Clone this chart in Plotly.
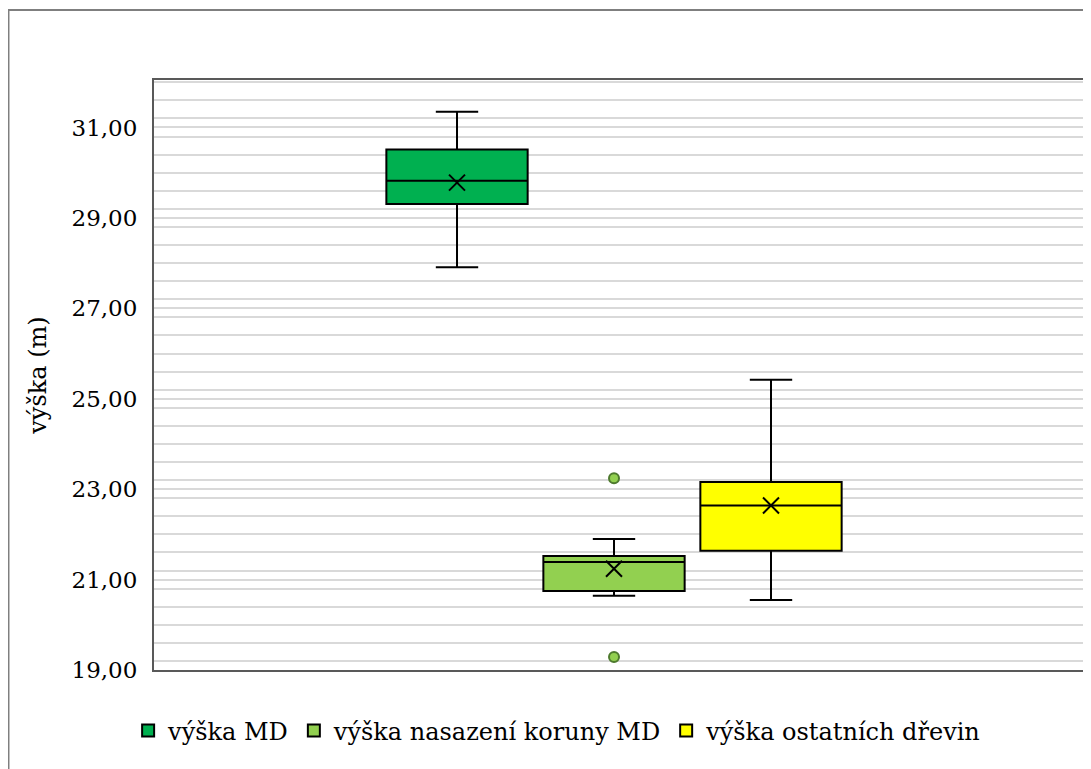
import plotly.graph_objects as go

# box statistics (metres)
series = ["výška MD", "výška nasazení koruny MD", "výška ostatních dřevin"]
colors = ["#00B050", "#92D050", "#FFFF00"]
positions = [2, 3, 4]
q1 = [29.31, 20.75, 21.64]
median = [29.82, 21.39, 22.64]
q3 = [30.51, 21.52, 23.16]
lower = [27.91, 20.64, 20.55]
upper = [31.35, 21.90, 25.42]
means = [29.78, 21.24, 22.64]
outlier_x = [3, 3]
outlier_y = [23.24, 19.29]

FONT = "DejaVu Serif"

fig = go.Figure()
for i, name in enumerate(series):
    fig.add_trace(go.Box(
        x=[positions[i]], q1=[q1[i]], median=[median[i]], q3=[q3[i]],
        lowerfence=[lower[i]], upperfence=[upper[i]],
        name=name, width=0.9, whiskerwidth=0.3,
        fillcolor=colors[i], line=dict(color="black", width=2),
        hoverinfo="skip",
    ))

fig.add_scatter(x=positions, y=means, mode="markers", showlegend=False,
                marker=dict(symbol="x-thin-open", size=16, color="black",
                            line=dict(color="black", width=2)))
fig.add_scatter(x=outlier_x, y=outlier_y, mode="markers", showlegend=False,
                marker=dict(symbol="circle", size=10, color="#92D050",
                            line=dict(color="#4E7A2E", width=2)))

# outer chart border
fig.add_shape(type="rect", xref="paper", yref="paper", x0=-0.1563, x1=1.02, y0=-0.35, y1=1.1186,
              line=dict(color="#7F7F7F", width=2), layer="below")

fig.update_layout(
    width=1083, height=761,
    margin=dict(l=146, r=6, t=72, b=99),
    paper_bgcolor="white", plot_bgcolor="white",
    separators=", ",
    font=dict(family=FONT, size=23, color="black"),
    showlegend=True,
    legend=dict(orientation="h", x=0.433, xanchor="center", y=-0.1034, yanchor="middle",
                font=dict(family=FONT, size=24), itemwidth=30, traceorder="normal"),
    xaxis=dict(range=[0.07, 6.0], showticklabels=False, showgrid=False, zeroline=False,
               showline=True, linecolor="#595959", linewidth=2, mirror=True, ticks=""),
    yaxis=dict(range=[19, 32.05], tick0=19, dtick=2, tickformat=".2f", automargin=False,
               showgrid=True, gridcolor="#D9D9D9", gridwidth=2, zeroline=False,
               minor=dict(dtick=0.4, showgrid=True, gridcolor="#D9D9D9", gridwidth=2),
               showline=True, linecolor="#595959", linewidth=2, mirror=True,
               ticks="", ticklabelstandoff=10, tickfont=dict(family=FONT, size=23),
               title=dict(text="výška (m)", font=dict(family=FONT, size=24), standoff=18)),
)

fig.write_html("out.html")
